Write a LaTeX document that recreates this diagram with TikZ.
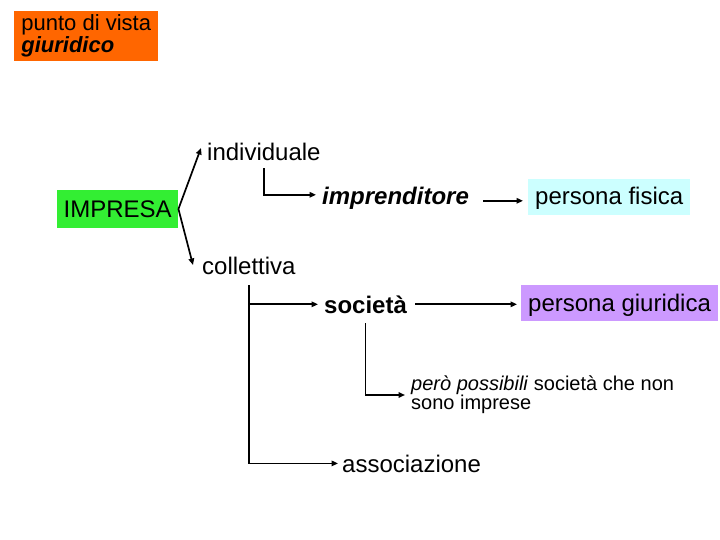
\documentclass[tikz,border=0pt]{standalone}
\usepackage{fontspec}
\setmainfont{Liberation Sans}
\usetikzlibrary{arrows.meta}
\definecolor{orangeA}{HTML}{FF6600}
\definecolor{greenA}{HTML}{33EE33}
\definecolor{cyanA}{HTML}{CCFFFF}
\definecolor{violetA}{HTML}{CC99FF}
\begin{document}
\begin{tikzpicture}[x=1pt,y=-1pt,
  conn/.style={line width=1.7pt,-{Triangle[length=6.5pt,width=5.5pt]}},
  lbl/.style={inner sep=0pt,anchor=base west,font=\fontsize{24}{28}\selectfont},
  colbox/.style={anchor=west,inner xsep=7pt,inner ysep=0pt,minimum height=36pt,text height=19pt,text depth=3pt,font=\fontsize{24}{28}\selectfont}]
\useasboundingbox[fill=white] (0,0) rectangle (720,540);

\node[fill=orangeA,anchor=north west,align=left,inner xsep=7pt,inner ysep=0pt,
  minimum width=144pt,minimum height=50pt,font=\fontsize{22}{22}\selectfont]
  (pv) at (14,11) {punto di vista\\\textbf{\textit{giuridico}}};

\node[colbox,fill=greenA,inner xsep=6.5pt,minimum height=38pt,text height=17.5pt,text depth=0pt]
  (impresa) at (57,209) {IMPRESA};

\node[lbl] (indiv) at (207,161) {individuale};
\node[lbl] (coll) at (202,274) {collettiva};
\node[lbl,font=\fontsize{24}{28}\selectfont\bfseries\itshape] (impr) at (322,205) {imprenditore};
\node[colbox,fill=cyanA] (pfis) at (528,197) {persona fisica};
\node[lbl,font=\fontsize{24}{28}\selectfont\bfseries] (soc) at (324,313) {società};
\node[colbox,fill=violetA] (pgiur) at (521,303) {persona giuridica};
\node[anchor=west,inner sep=0pt,align=left,font=\fontsize{20}{19}\selectfont]
  (nota) at (411,395) {\textit{però possibili} società che non\\sono imprese};
\node[lbl] (assoc) at (342,472) {associazione};

\coordinate (tind) at (201,148);
\coordinate (tcoll) at (193,265);
\draw[conn] (impresa.east) -- (tind);
\draw[conn] (impresa.east) -- (tcoll);

\draw[conn] ([yshift=-7pt]indiv.south) |- ([xshift=-6pt,yshift=4pt]impr.west);
\draw[conn] ([xshift=14pt,yshift=-2pt]impr.east) -- ([xshift=-5pt,yshift=-2pt]impr.east -| pfis.west);

\draw[conn] ([yshift=-11pt]coll.south) |- ([xshift=-4pt]assoc.west);
\draw[conn] (coll.south |- soc.west) -- ([xshift=-6pt]soc.west);
\draw[conn] ([xshift=8pt]soc.east) -- ([xshift=-4pt]soc.east -| pgiur.west);
\draw[conn] ([yshift=-10pt]soc.south) |- ([xshift=-6pt]nota.west);
\end{tikzpicture}
\end{document}
